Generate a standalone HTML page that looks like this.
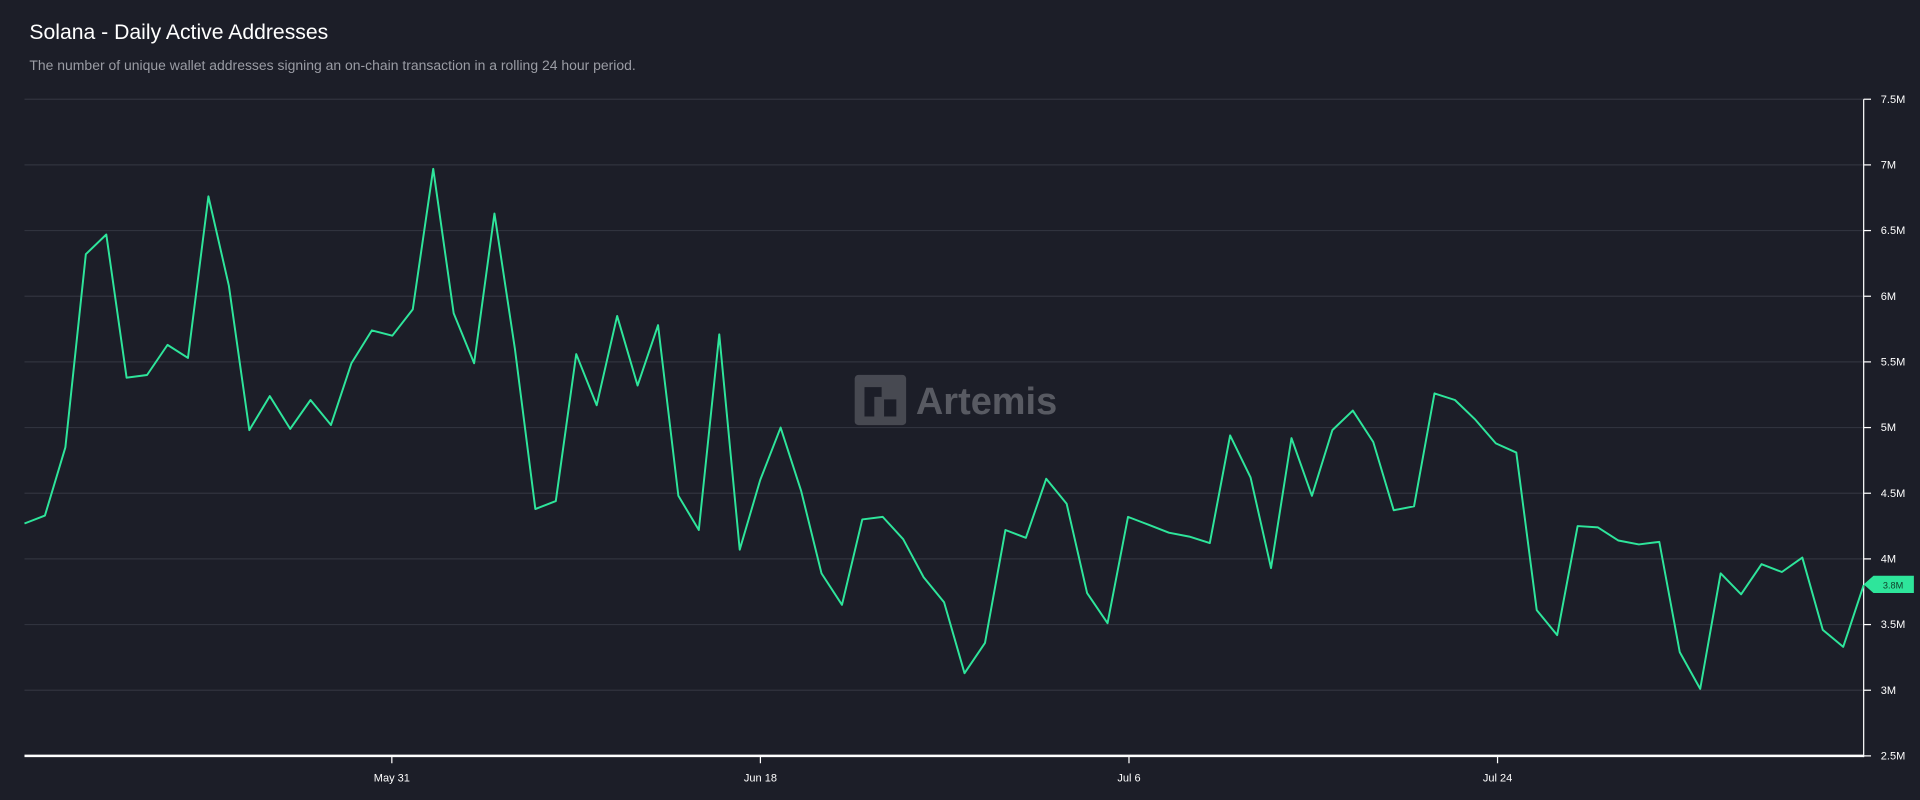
<!DOCTYPE html>
<html><head><meta charset="utf-8"><style>
html,body{margin:0;padding:0;background:#1c1e28;width:1920px;height:800px;overflow:hidden}
svg{display:block}
text{font-family:"Liberation Sans",Arial,sans-serif}
</style></head><body>
<svg width="1920" height="800" viewBox="0 0 1568 653" preserveAspectRatio="none">
<rect width="1568" height="653" fill="#1c1e28"/>
<text x="24" y="32" fill="#ffffff" font-size="17.3">Solana - Daily Active Addresses</text>
<text x="24" y="57" fill="#9a9ca4" font-size="11.4">The number of unique wallet addresses signing an on-chain transaction in a rolling 24 hour period.</text>
<g id="grid" stroke="#30333e" stroke-width="1"></g>
<line x1="1522" y1="81" x2="1522" y2="618" stroke="#ffffff" stroke-width="1"/>
<line x1="20" y1="617" x2="1522" y2="617" stroke="#ffffff" stroke-width="2"/>
<g id="yl" fill="#ffffff" font-size="9"></g>
<g fill="#ffffff" font-size="9" text-anchor="middle">
<line x1="320" y1="617" x2="320" y2="623" stroke="#fff"/><text x="320" y="638">May 31</text>
<line x1="621" y1="617" x2="621" y2="623" stroke="#fff"/><text x="621" y="638">Jun 18</text>
<line x1="922" y1="617" x2="922" y2="623" stroke="#fff"/><text x="922" y="638">Jul 6</text>
<line x1="1223" y1="617" x2="1223" y2="623" stroke="#fff"/><text x="1223" y="638">Jul 24</text>
</g>
<g opacity="0.55">
<rect x="698" y="306" width="42" height="41" rx="3" fill="#6b6d74"/>
<path d="M706 340 V316 h14 v8 h-6 v16 z M722 326 h10 v14 h-10 z" fill="#1c1e28"/>
<text x="748" y="338" fill="#8a8c93" font-size="31" font-weight="bold">Artemis</text>
</g>
<polyline id="ln" fill="none" stroke="#2ee59b" stroke-width="1.6" stroke-linejoin="round"/>
<path d="M1522 477 L1530 470 H1563 V484 H1530 Z" fill="#2ee59b"/>
<text x="1546" y="480.5" fill="#0f3d28" font-size="7.5" text-anchor="middle" font-family="Liberation Serif">3.8M</text>
</svg>
<script>
var v=[4.27,4.33,4.85,6.32,6.47,5.38,5.40,5.63,5.53,6.76,6.08,4.98,5.24,4.99,5.21,5.02,5.49,5.74,5.70,5.90,6.97,5.87,5.49,6.63,5.60,4.38,4.44,5.56,5.17,5.85,5.32,5.78,4.48,4.22,5.71,4.07,4.60,5.00,4.52,3.89,3.65,4.30,4.32,4.15,3.86,3.67,3.13,3.36,4.22,4.16,4.61,4.42,3.74,3.51,4.32,4.26,4.20,4.17,4.12,4.94,4.62,3.93,4.92,4.48,4.98,5.13,4.89,4.37,4.40,5.26,5.21,5.06,4.88,4.81,3.61,3.42,4.25,4.24,4.14,4.11,4.13,3.29,3.01,3.89,3.73,3.96,3.90,4.01,3.46,3.33,3.80];
function Y(x){return 617-(x-2.5)*107.2}
var p=v.map(function(a,i){return (20+i*1502/90).toFixed(1)+","+Y(a).toFixed(1)}).join(" ");
document.getElementById("ln").setAttribute("points",p);
var ns="http://www.w3.org/2000/svg",g=document.getElementById("grid"),yl=document.getElementById("yl");
var labs=["2.5M","3M","3.5M","4M","4.5M","5M","5.5M","6M","6.5M","7M","7.5M"];
for(var i=0;i<11;i++){var y=Y(2.5+i*0.5);
if(i>0){var l=document.createElementNS(ns,"line");l.setAttribute("x1",20);l.setAttribute("x2",1522);l.setAttribute("y1",y);l.setAttribute("y2",y);g.appendChild(l);}
var t=document.createElementNS(ns,"line");t.setAttribute("x1",1522);t.setAttribute("x2",1528);t.setAttribute("y1",y);t.setAttribute("y2",y);t.setAttribute("stroke","#fff");yl.appendChild(t);
var tx=document.createElementNS(ns,"text");tx.setAttribute("x",1536);tx.setAttribute("y",y+3);tx.textContent=labs[i];yl.appendChild(tx);}
</script>
</body></html>
